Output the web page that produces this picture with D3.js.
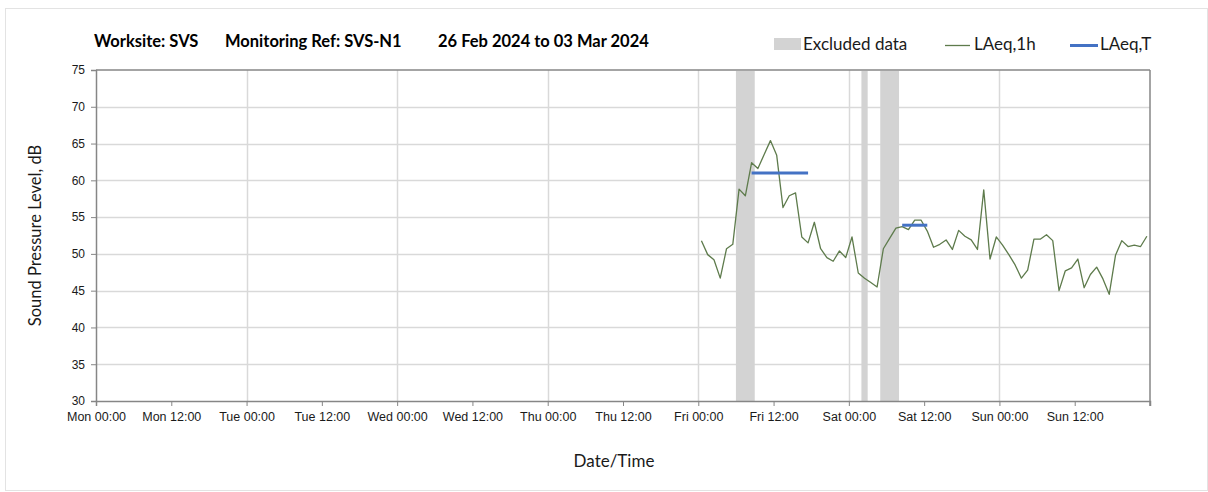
<!DOCTYPE html>
<html>
<head>
<meta charset="utf-8">
<script src="https://cdn.jsdelivr.net/npm/d3@7/dist/d3.min.js"></script>
<style>
  html, body { margin: 0; padding: 0; background: #fff; }
  svg { display: block; font-family: Lato, "Open Sans", "DejaVu Sans", sans-serif; }
</style>
</head>
<body>
<svg id="chart" width="1208" height="492"></svg>
<script>
// ---------------- data ----------------
const titleParts = ["Worksite: SVS", "Monitoring Ref: SVS-N1", "26 Feb 2024 to 03 Mar 2024"];
const yLabel = "Sound Pressure Level, dB";
const xLabel = "Date/Time";
const legendLabels = ["Excluded data", "LAeq,1h", "LAeq,T"];

const xDomain = ["2024-02-26T00:00:00Z", "2024-03-04T00:00:00Z"];
const yDomain = [30, 75];
const yTicks = [30, 35, 40, 45, 50, 55, 60, 65, 70, 75];

// hourly LAeq,1h values, first sample at Fri 01 Mar 00:30, one per hour
const seriesStart = "2024-03-01T00:30:00Z";
const laeq1h = [
  // Fri
  51.8, 49.9, 49.2, 46.7, 50.7, 51.3, 58.8, 57.9, 62.4, 61.6, 63.5, 65.4,
  63.4, 56.3, 57.9, 58.3, 52.3, 51.5, 54.3, 50.7, 49.5, 49.0, 50.4, 49.5,
  // Sat
  52.3, 47.4, 46.7, 46.1, 45.5, 50.7, 52.1, 53.5, 53.7, 53.3, 54.6, 54.6,
  53.1, 50.9, 51.3, 51.9, 50.6, 53.2, 52.4, 51.9, 50.6, 58.7, 49.3, 52.3,
  // Sun
  51.2, 49.9, 48.5, 46.7, 47.8, 52.0, 52.0, 52.6, 51.8, 45.0, 47.7, 48.1,
  49.3, 45.4, 47.2, 48.2, 46.6, 44.5, 49.8, 51.8, 51.0, 51.2, 51.0, 52.4
];

// excluded data periods [start, end]
const excludedStart = ["2024-03-01T06:00:00Z", "2024-03-02T02:00:00Z", "2024-03-02T05:00:00Z"];
const excludedEnd   = ["2024-03-01T09:00:00Z", "2024-03-02T03:00:00Z", "2024-03-02T08:00:00Z"];

// LAeq,T periods
const laeqTStart = ["2024-03-01T08:30:00Z", "2024-03-02T08:30:00Z"];
const laeqTEnd   = ["2024-03-01T17:30:00Z", "2024-03-02T12:30:00Z"];
const laeqTValue = [61.0, 53.9];

// ---------------- drawing ----------------
const svg = d3.select("#chart");
const W = 1208, H = 492;
const m = { left: 96, right: 1150, top: 70, bottom: 401 };

const colLine = "#5e7b4c";
const colBlue = "#4472c4";
const colExcl = "#d3d3d3";
const colGrid = "#d9d9d9";
const colAxis = "#868686";
const colText = "#1a1a1a";

const x = d3.scaleUtc().domain(xDomain.map(d => new Date(d))).range([m.left, m.right]);
const y = d3.scaleLinear().domain(yDomain).range([m.bottom, m.top]);

// outer frame
svg.append("rect").attr("x", 5.5).attr("y", 8.5).attr("width", W - 6).attr("height", H - 10)
  .attr("fill", "none").attr("stroke", "#e3e3e3");

// gridlines
const gGrid = svg.append("g");
gGrid.selectAll("line.h").data(yTicks.filter(v => v > yDomain[0] && v < yDomain[1])).join("line")
  .attr("x1", m.left).attr("x2", m.right)
  .attr("y1", d => Math.round(y(d)) + 0.5).attr("y2", d => Math.round(y(d)) + 0.5)
  .attr("stroke", colGrid).attr("stroke-width", 1.5);
const dayTicks = d3.utcDay.range(new Date(xDomain[0]), new Date(xDomain[1])).slice(1);
gGrid.selectAll("line.v").data(dayTicks).join("line")
  .attr("x1", d => Math.round(x(d)) + 0.5).attr("x2", d => Math.round(x(d)) + 0.5)
  .attr("y1", m.top).attr("y2", m.bottom)
  .attr("stroke", colGrid).attr("stroke-width", 1.5);

// excluded bars (drawn over gridlines)
svg.append("g").selectAll("rect").data(excludedStart.map((s, i) => [new Date(s), new Date(excludedEnd[i])]))
  .join("rect")
  .attr("x", d => x(d[0])).attr("width", d => x(d[1]) - x(d[0]))
  .attr("y", m.top + 1).attr("height", m.bottom - m.top - 1)
  .attr("fill", colExcl);

// y axis
const yAxis = d3.axisLeft(y).tickValues(yTicks).tickSize(5).tickPadding(6).tickFormat(d3.format("d"));
const gy = svg.append("g").attr("transform", `translate(${m.left},0)`).call(yAxis);
gy.select(".domain").attr("stroke", colAxis).attr("stroke-width", 1.5);
gy.selectAll(".tick line").attr("stroke", colAxis);
gy.selectAll(".tick text").attr("fill", colText).style("font-size", "12px");

// x axis
const xAxis = d3.axisBottom(x).ticks(d3.utcHour.every(12)).tickSize(5).tickPadding(6)
  .tickFormat(d3.utcFormat("%a %H:%M"));
const gx = svg.append("g").attr("transform", `translate(0,${m.bottom})`).call(xAxis);
gx.select(".domain").attr("stroke", colAxis).attr("stroke-width", 1.5);
gx.selectAll(".tick line").attr("stroke", colAxis);
gx.selectAll(".tick text").attr("fill", colText).style("font-size", "12.5px")
  .filter(d => +d === +x.domain()[1]).remove();

// top and right border
svg.append("line").attr("x1", m.left).attr("x2", m.right).attr("y1", m.top).attr("y2", m.top)
  .attr("stroke", colAxis).attr("stroke-width", 1.5);
svg.append("line").attr("x1", m.right).attr("x2", m.right).attr("y1", m.top).attr("y2", m.bottom + 5)
  .attr("stroke", colAxis).attr("stroke-width", 1.5);

// LAeq,1h line
const t0 = new Date(seriesStart);
const pts = laeq1h.map((v, i) => ({ t: d3.utcHour.offset(t0, i), v }));
svg.append("path").datum(pts)
  .attr("fill", "none").attr("stroke", colLine).attr("stroke-width", 1.3)
  .attr("stroke-linejoin", "round")
  .attr("d", d3.line().x(d => x(d.t)).y(d => y(d.v)));

// LAeq,T segments
svg.append("g").selectAll("line").data(laeqTValue.map((v, i) => ({ s: new Date(laeqTStart[i]), e: new Date(laeqTEnd[i]), v })))
  .join("line")
  .attr("x1", d => x(d.s)).attr("x2", d => x(d.e))
  .attr("y1", d => y(d.v)).attr("y2", d => y(d.v))
  .attr("stroke", colBlue).attr("stroke-width", 3);

// title
const titleX = [94, 225, 438];
const tt = svg.append("text").attr("y", 47).attr("fill", "#000")
  .style("font-size", "16.5px").style("font-weight", "bold");
tt.selectAll("tspan").data(titleParts).join("tspan")
  .attr("x", (d, i) => titleX[i]).text(d => d);

// legend
const lg = svg.append("g");
lg.append("rect").attr("x", 774).attr("y", 38).attr("width", 27).attr("height", 12).attr("fill", colExcl);
lg.append("text").attr("x", 803).attr("y", 50).text(legendLabels[0]);
lg.append("line").attr("x1", 945).attr("x2", 970).attr("y1", 45.5).attr("y2", 45.5).attr("stroke", colLine).attr("stroke-width", 1.3);
lg.append("text").attr("x", 974).attr("y", 50).text(legendLabels[1]);
lg.append("line").attr("x1", 1070).attr("x2", 1098).attr("y1", 45.5).attr("y2", 45.5).attr("stroke", colBlue).attr("stroke-width", 3);
lg.append("text").attr("x", 1100).attr("y", 50).text(legendLabels[2]);
lg.selectAll("text").attr("fill", colText).style("font-size", "17px");

// axis titles
svg.append("text").attr("transform", `translate(41,${(m.top + m.bottom) / 2}) rotate(-90)`)
  .attr("text-anchor", "middle").attr("fill", colText).style("font-size", "16.5px").text(yLabel);
svg.append("text").attr("x", 614).attr("y", 467).attr("text-anchor", "middle")
  .attr("fill", colText).style("font-size", "17px").text(xLabel);
</script>
</body>
</html>
